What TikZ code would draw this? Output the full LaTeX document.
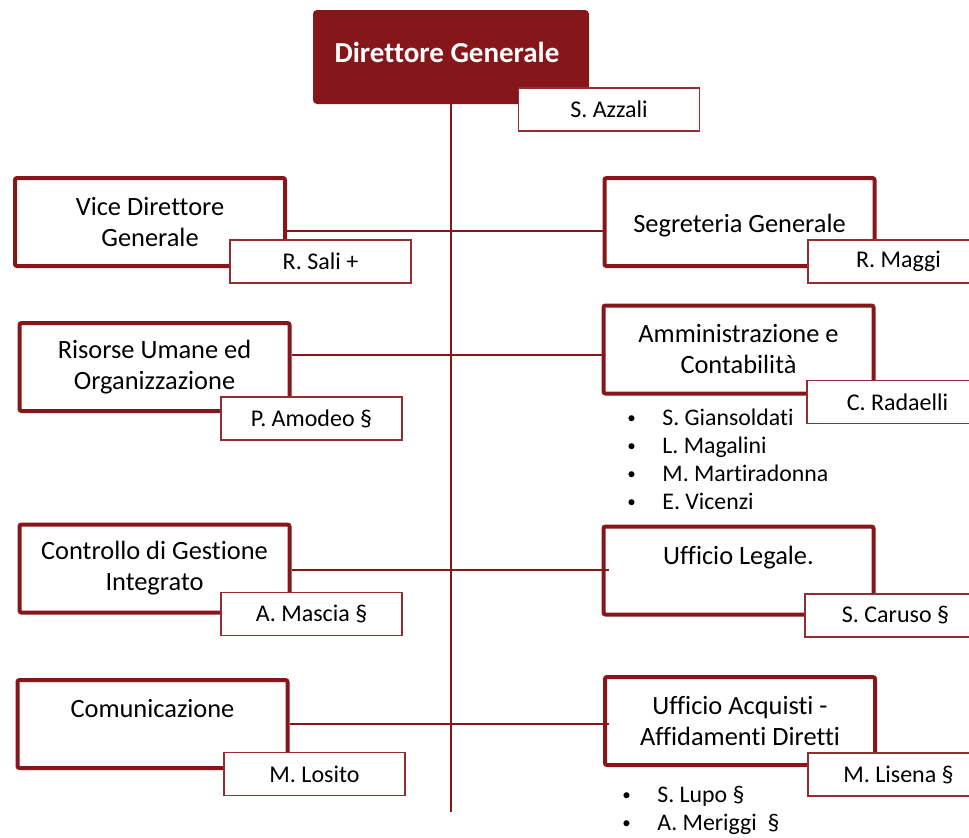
\documentclass[tikz,border=0pt]{standalone}
\usepackage{fontspec}
\setmainfont{Carlito}[Ligatures=NoCommon]
\usepackage{tikz}
\definecolor{dgred}{RGB}{134,22,26}
\newcommand{\staffdot}{\makebox[17.5pt][l]{\raisebox{0.6pt}{\fontsize{8.5}{8.5}\selectfont\textbullet}}}

\begin{document}
\begin{tikzpicture}[x=0.5pt, y=-0.5pt,
    unit/.style={draw=dgred, line width=2pt, fill=white, rounded corners=1pt, minimum width=135pt, minimum height=44pt, inner sep=0, align=center, font=\fontsize{13.2}{15.5}\selectfont},
    person/.style={draw=dgred!90, line width=0.8pt, fill=white, minimum width=90.5pt, minimum height=21.5pt, inner sep=0, font=\fontsize{12}{14}\selectfont},
    staff/.style={anchor=base west, inner sep=0, font=\fontsize{11.9}{14}\selectfont},
    link/.style={draw=dgred, line width=1pt}]
        \useasboundingbox (0,0) rectangle (969,837);
        \clip (0,0) rectangle (969,837);

        % direttore
        \node[fill=dgred, rounded corners=2pt, minimum width=138pt, minimum height=47pt,
              label={[text=white, font=\bfseries\fontsize{14.5}{17}\selectfont, yshift=2.5pt, xshift=-2pt]center:Direttore Generale}] (dg) at (451,57) {};

        % uffici
        \node[unit] (vdg) at (150,222) {Vice Direttore\\Generale};
        \node[unit] (rum) at (154.5,367) {Risorse Umane ed\\Organizzazione};
        \node[unit] (cgi) at (154.5,568.5) {Controllo di Gestione\\Integrato};
        \node[unit] (com) at (152.5,724) {Comunicazione\\\mbox{}};
        \node[unit, text height=13pt, text depth=3pt] (sg) at (739.5,222) {Segreteria Generale};
        \node[unit] (amm) at (738.5,349.5) {Amministrazione e\\Contabilità};
        \node[unit] (ul) at (738.5,570.5) {Ufficio Legale.\\\mbox{}};
        \node[unit] (ua) at (740,721) {Ufficio Acquisti -\\Affidamenti Diretti};

        % linee
        \coordinate (t1) at (451,231);
        \coordinate (t2) at (451,355);
        \coordinate (t3) at (451,570);
        \coordinate (t4) at (451,724);
        \coordinate (tend) at (451,812);
        \draw[link] (dg.south) -- (tend);
        \draw[link] (vdg.east |- t1) -- (sg.west |- t1);
        \draw[link] (rum.east |- t2) -- (amm.west |- t2);
        \draw[link] (cgi.east |- t3) -- ([xshift=3.5pt]ul.west |- t3);
        \draw[link] (com.east |- t4) -- ([xshift=3pt]ua.west |- t4);

        % responsabili
        \node[person] (azzali) at (609,109.5) {S. Azzali};
        \node[person] (sali) at (320.5,261.5) {R. Sali +};
        \node[person] (amodeo) at (311.5,418.5) {P. Amodeo §};
        \node[person] (mascia) at (311.5,614) {A. Mascia §};
        \node[person] (losito) at (314.5,774) {M. Losito};
        \node[person] (maggi) at (898.5,261.5) {R. Maggi};
        \node[person] (radaelli) at (897.5,402) {C. Radaelli};
        \node[person] (caruso) at (895.5,615.5) {S. Caruso §};
        \node[person] (lisena) at (898.5,774.5) {M. Lisena §};

        % collaboratori
        \foreach \who [count=\i] in {S. Giansoldati, L. Magalini, M. Martiradonna, E. Vicenzi}
            \node[staff] (amm\i) at (627,{397+28*\i}) {\staffdot\who};
        \foreach \who [count=\i] in {S. Lupo §, A. Meriggi\ \ §}
            \node[staff] (ua\i) at (622,{774+28*\i}) {\staffdot\who};
\end{tikzpicture}
\end{document}
